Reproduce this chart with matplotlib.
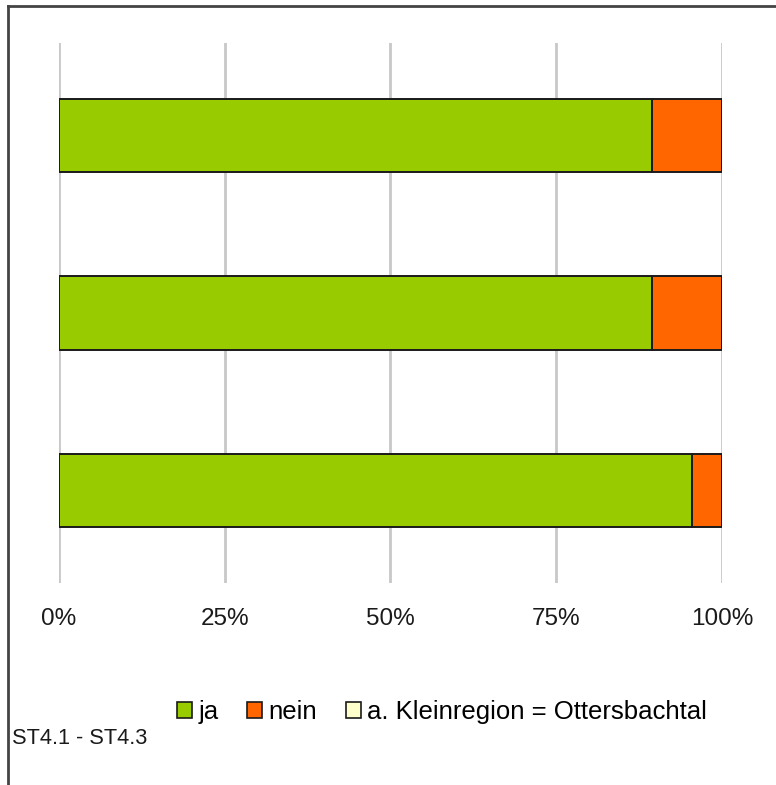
import matplotlib
matplotlib.use("Agg")
import matplotlib.pyplot as plt
from matplotlib.patches import Patch
from matplotlib.lines import Line2D

plt.rcParams['font.family'] = ['Liberation Sans', 'DejaVu Sans']

# Data (bottom to top)
categories = ["ST4.3", "ST4.2", "ST4.1"]
ja = [95.4, 89.4, 89.4]
nein = [4.6, 10.6, 10.6]
kleinregion = [0.0, 0.0, 0.0]
series_names = ["ja", "nein", "a. Kleinregion = Ottersbachtal"]
series_colors = ["#99CC00", "#FF6600", "#FFFFCC"]
xticks = [0, 25, 50, 75, 100]
xtick_labels = ["0%", "25%", "50%", "75%", "100%"]
footer = "ST4.1 - ST4.3"

W, H = 776, 785
fig = plt.figure(figsize=(W / 100, H / 100), dpi=100)
ax = fig.add_axes([59 / W, 1 - 583 / H, (722 - 59) / W, (583 - 43) / H])

ypos = list(range(len(categories)))
left = [0.0] * len(categories)
for vals, name, col in zip([ja, nein, kleinregion], series_names, series_colors):
    ax.barh(ypos, vals, left=left, height=0.415, color=col, edgecolor="#1a1a1a",
            linewidth=1.4, zorder=3, label=name)
    left = [l + v for l, v in zip(left, vals)]

ax.set_xlim(0, 100)
ax.set_ylim(-0.52, 2.52)
ax.set_xticks(xticks)
ax.set_xticklabels(xtick_labels, fontsize=17.5, color="#1a1a1a")
ax.set_yticks([])
ax.tick_params(axis="x", length=0, pad=18)
ax.grid(axis="x", color="#C8C8C8", linewidth=2, zorder=0)
for s in ax.spines.values():
    s.set_visible(False)

handles = [Patch(facecolor=c, edgecolor="#1a1a1a", linewidth=1.2) for c in series_colors]
fig.legend(handles, series_names, loc="center", bbox_to_anchor=(442 / W, 1 - 712 / H),
           ncol=3, frameon=False, fontsize=18.5, handlelength=0.6, handleheight=0.6,
           handletextpad=0.25, columnspacing=1.1)

fig.text(12 / W, 1 - 739 / H, footer, fontsize=15.7, ha="left", va="center", color="#1a1a1a")

# Outer frame (top and left edges visible)
fig.add_artist(Line2D([8 / W, 1.0], [1 - 6 / H, 1 - 6 / H], color="#444444", linewidth=2))
fig.add_artist(Line2D([8 / W, 8 / W], [1 - 6 / H, 0.0], color="#444444", linewidth=2))

fig.savefig("out.png", dpi=100, facecolor="white")
